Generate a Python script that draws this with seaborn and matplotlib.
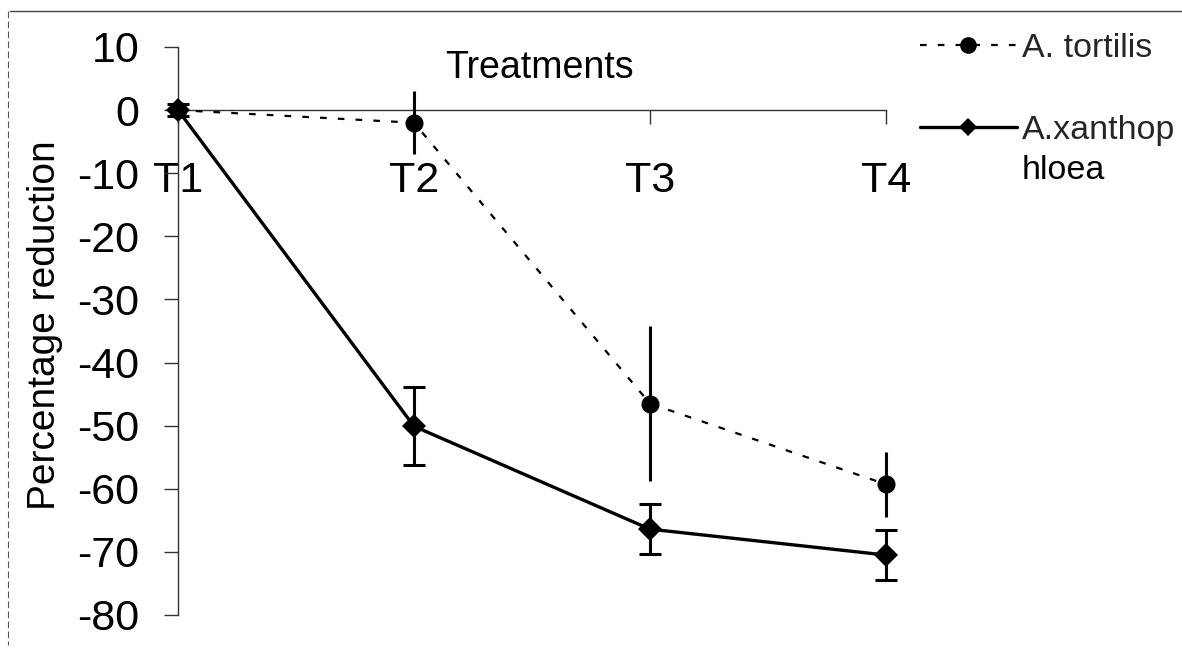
import matplotlib
matplotlib.use("Agg")
import matplotlib.pyplot as plt
import seaborn as sns
from matplotlib.lines import Line2D

# Treatment levels and mean percentage reduction (+/- error) per species
treatments = ["T1", "T2", "T3", "T4"]
positions = [0, 1, 2, 3]
tortilis_mean = [0.0, -2.0, -46.5, -59.3]
tortilis_err = [1.0, 5.0, 12.3, 5.2]
xantho_mean = [0.0, -50.1, -66.4, -70.5]
xantho_err = [1.0, 6.2, 4.0, 3.9]
y_ticks = [10, 0, -10, -20, -30, -40, -50, -60, -70, -80]

sns.set_theme(style="white")
plt.rcParams["font.family"] = ["Liberation Sans", "DejaVu Sans"]
plt.rcParams["axes.unicode_minus"] = False

fig = plt.figure(figsize=(11.82, 6.51), dpi=100)
ax = fig.add_axes([178 / 1182, 1 - 615 / 651, 708 / 1182, 568 / 651])

dotted = (0, (3, 5))

# A. tortilis: dotted line, round markers, error bars without caps
sns.lineplot(x=positions, y=tortilis_mean, ax=ax, color="black", lw=1.6,
             linestyle=dotted, marker="o", markersize=13, mec="black",
             mew=0, clip_on=False, zorder=4, legend=False)
ax.errorbar(positions, tortilis_mean, yerr=tortilis_err, fmt="none",
            ecolor="black", elinewidth=2.2, capsize=0, clip_on=False, zorder=3)

# A. xanthophloea: solid line, diamond markers, capped error bars
sns.lineplot(x=positions, y=xantho_mean, ax=ax, color="black", lw=2.4,
             linestyle="-", marker="D", markersize=12, mec="black",
             mew=0, clip_on=False, zorder=4, legend=False)
ax.errorbar(positions, xantho_mean, yerr=xantho_err, fmt="none",
            ecolor="black", elinewidth=2.2, capsize=8, capthick=2.2,
            clip_on=False, zorder=3)

ax.set_xlim(0, 3)
ax.set_ylim(-80, 10)
ax.set_yticks(y_ticks)
ax.set_xticks(positions)
ax.set_xticklabels(treatments)

for side in ("top", "right"):
    ax.spines[side].set_visible(False)
ax.spines["bottom"].set_position(("data", 0))
for side in ("bottom", "left"):
    ax.spines[side].set_color("#333333")
    ax.spines[side].set_linewidth(1.0)

ax.tick_params(axis="both", which="major", direction="out", length=10,
               width=1.0, color="#333333", labelsize=31, pad=18,
               labelcolor="black", bottom=True, left=True)
ax.tick_params(axis="x", pad=27)

ax.set_xlabel("Treatments", fontsize=27, color="black", va="center")
ax.xaxis.set_label_coords(0.511, 0.963)
ax.set_ylabel("Percentage reduction", fontsize=28, color="black")
ax.yaxis.set_label_coords(-0.162, 0.51)

# Legend to the right of the plot
handles = [
    Line2D([], [], color="black", lw=1.6, linestyle=dotted, marker="o",
           markersize=12, mew=0),
    Line2D([], [], color="black", lw=2.4, linestyle="-", marker="D",
           markersize=9, mew=0),
]
leg = fig.legend(handles, ["A. tortilis", "A.xanthop"], loc="upper left",
                 bbox_to_anchor=(920 / 1182, 1 - 33 / 651), frameon=False,
                 fontsize=24.5, handlelength=2.85, handletextpad=0.15,
                 labelspacing=1.5, borderpad=0, borderaxespad=0)
fig.text(1022 / 1182, 1 - 170 / 651, "hloea", va="center", ha="left",
         fontsize=24.5, color="black")

# Frame edges around the figure
fig.add_artist(Line2D([10 / 1182, 1.0], [1 - 11 / 651] * 2,
                      transform=fig.transFigure, color="#444444", lw=1.0))
fig.add_artist(Line2D([8 / 1182] * 2, [1 - 11 / 651, 1 - 645 / 651],
                      transform=fig.transFigure, color="#555555", lw=0.8,
                      linestyle=(0, (6, 3))))

fig.savefig("out.png", dpi=100, facecolor="white")
